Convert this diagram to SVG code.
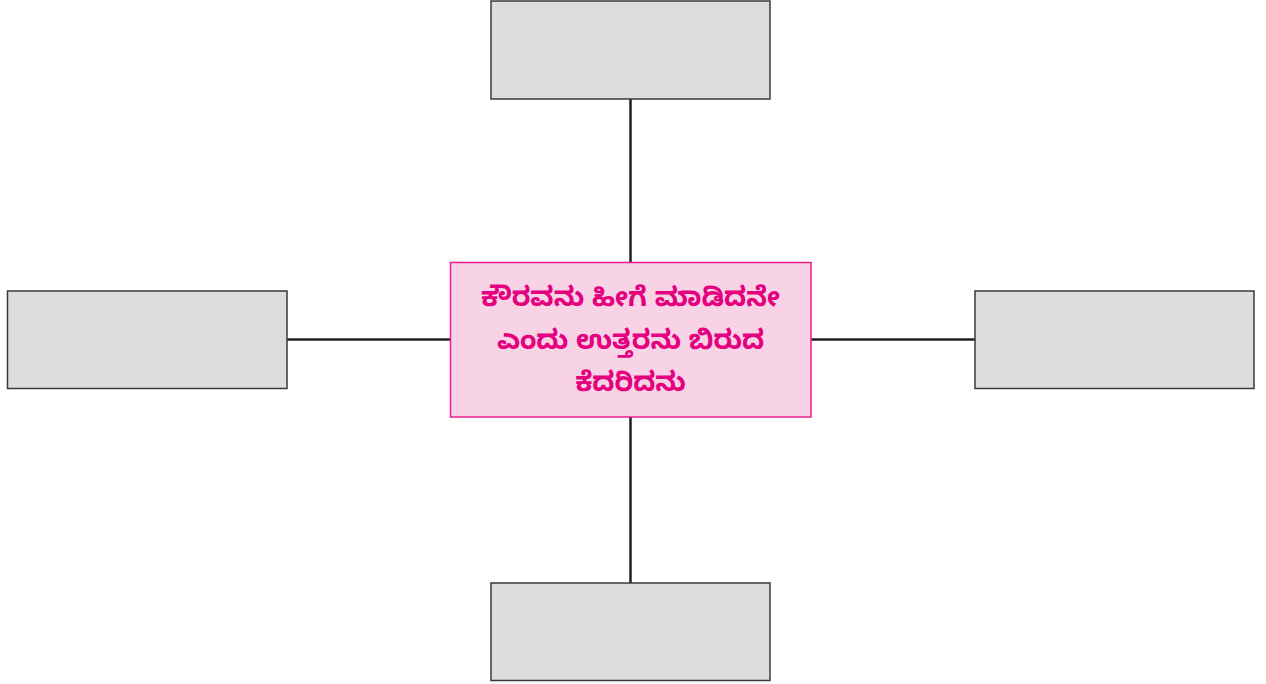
<svg xmlns="http://www.w3.org/2000/svg" width="1266" height="684" viewBox="0 0 1266 684">
<style>
.box{fill:#dcdddf;stroke:#3a3a3a;stroke-width:1.5}
.center{fill:#f8d3e5;stroke:#ec1c8c;stroke-width:1.5}
.conn{stroke:#231f20;stroke-width:2.5;fill:none}
.lbl{font-family:"Noto Sans Kannada","Noto Serif Kannada","Tunga","Kedage","Lohit Kannada","Noto Sans",sans-serif;font-size:27px;font-weight:bold;fill:#e4007f;text-anchor:middle}
</style>
<rect width="1266" height="684" fill="#ffffff"/>
<g id="connectors">
<line class="conn" x1="630.5" y1="99" x2="630.5" y2="263"/>
<line class="conn" x1="630.5" y1="417" x2="630.5" y2="583"/>
<line class="conn" x1="287" y1="339.5" x2="451" y2="339.5"/>
<line class="conn" x1="811" y1="339.5" x2="975" y2="339.5"/>
</g>
<g id="node-top"><rect class="box" x="491" y="1" width="279" height="98"/></g>
<g id="node-left"><rect class="box" x="7.5" y="291" width="279.5" height="97.5"/></g>
<g id="node-right"><rect class="box" x="975" y="291" width="279" height="97.5"/></g>
<g id="node-bottom"><rect class="box" x="491" y="583" width="279" height="97.5"/></g>
<g id="node-center">
<rect class="center" x="450.5" y="262.5" width="360.5" height="154.5"/>
<text class="lbl" x="630.5" y="306">ಕೌರವನು ಹೀಗೆ ಮಾಡಿದನೇ</text>
<text class="lbl" x="630.5" y="349">ಎಂದು ಉತ್ತರನು ಬಿರುದ</text>
<text class="lbl" x="630.5" y="391">ಕೆದರಿದನು</text>
</g>
</svg>
